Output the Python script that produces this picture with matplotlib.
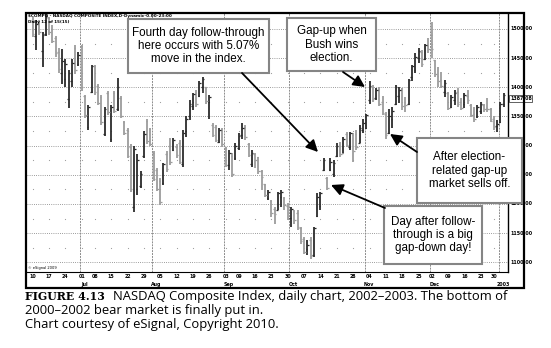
import numpy as np
import pandas as pd
import matplotlib
matplotlib.use("Agg")
import matplotlib.pyplot as plt
from matplotlib.patches import Rectangle, FancyArrowPatch
from matplotlib.transforms import blended_transform_factory

W, H = 551, 348

# NASDAQ Composite, daily bars Jun 10 2002 - Jan 3 2003
holidays = ["2002-07-04", "2002-09-02", "2002-11-28", "2002-12-25", "2003-01-01"]
days = pd.bdate_range("2002-06-10", "2003-01-03")
days = days[~days.isin(pd.to_datetime(holidays))]

opens = [
    1515, 1488, 1512, 1462, 1492, 1518, 1500, 1485, 1460, 1425, 1415, 1380, 1410, 1468, 1440,
    1470, 1385, 1332, 1392, 1436, 1402, 1384, 1320, 1390, 1312, 1390, 1362, 1382, 1340, 1326,
    1298, 1195, 1225, 1230, 1282, 1342, 1328,
    1288, 1258, 1240, 1236, 1285, 1300, 1292, 1298, 1305, 1268, 1325, 1350, 1368, 1390, 1385,
    1400, 1400, 1375, 1336, 1332, 1306, 1326,
    1296, 1266, 1282, 1278, 1296, 1318, 1332, 1302, 1268, 1285, 1280, 1256, 1235, 1210, 1205,
    1192, 1190, 1212, 1210, 1196,
    1176, 1188, 1185, 1158, 1140, 1122, 1138, 1112, 1180, 1196, 1258, 1245, 1258, 1252, 1282,
    1300, 1288, 1320, 1298, 1318, 1320, 1305, 1326,
    1330, 1378, 1400, 1382, 1396, 1375, 1355, 1322, 1345, 1372, 1385, 1398, 1375, 1372, 1418,
    1430, 1450, 1460, 1448, 1470,
    1490, 1447, 1420, 1412, 1392, 1390, 1366, 1378, 1392, 1375, 1372, 1385, 1370, 1355, 1350,
    1360, 1370, 1365, 1362, 1345, 1334,
    1340, 1372,
]
highs = [
    1521, 1515, 1515, 1495, 1527, 1521, 1507, 1488, 1468, 1465, 1448, 1430, 1448, 1473, 1460,
    1473, 1387, 1370, 1439, 1439, 1405, 1387, 1367, 1393, 1370, 1393, 1416, 1385, 1342, 1330,
    1302, 1299, 1285, 1256, 1325, 1345, 1330,
    1290, 1262, 1245, 1271, 1290, 1313, 1313, 1302, 1310, 1327, 1350, 1378, 1390, 1395, 1410,
    1418, 1401, 1387, 1338, 1335, 1330, 1330,
    1298, 1292, 1287, 1304, 1321, 1338, 1336, 1304, 1292, 1287, 1281, 1258, 1235, 1224, 1206,
    1195, 1221, 1224, 1212, 1201,
    1195, 1189, 1189, 1161, 1144, 1138, 1144, 1161, 1218, 1221, 1278, 1247, 1278, 1276, 1304,
    1307, 1315, 1324, 1324, 1321, 1327, 1335, 1345,
    1355, 1410, 1404, 1398, 1401, 1385, 1358, 1362, 1367, 1404, 1401, 1399, 1384, 1415, 1438,
    1458, 1467, 1464, 1475, 1484,
    1512, 1447, 1435, 1427, 1413, 1392, 1387, 1395, 1398, 1381, 1390, 1395, 1372, 1367, 1370,
    1375, 1372, 1381, 1364, 1350, 1344,
    1375, 1390,
]
lows = [
    1487, 1464, 1490, 1435, 1488, 1490, 1476, 1452, 1425, 1405, 1400, 1365, 1400, 1422, 1436,
    1393, 1347, 1327, 1390, 1387, 1370, 1336, 1316, 1353, 1307, 1356, 1359, 1347, 1319, 1279,
    1221, 1187, 1216, 1227, 1279, 1302, 1299,
    1239, 1222, 1199, 1233, 1255, 1267, 1290, 1279, 1268, 1264, 1315, 1344, 1361, 1367, 1384,
    1390, 1372, 1345, 1315, 1307, 1304, 1298,
    1264, 1258, 1247, 1275, 1292, 1312, 1310, 1281, 1264, 1262, 1252, 1224, 1212, 1207, 1178,
    1166, 1189, 1195, 1189, 1172,
    1161, 1166, 1155, 1132, 1115, 1112, 1106, 1109, 1178, 1189, 1256, 1224, 1256, 1247, 1281,
    1281, 1287, 1298, 1292, 1272, 1292, 1304, 1321,
    1328, 1372, 1374, 1378, 1368, 1352, 1312, 1320, 1330, 1370, 1373, 1361, 1358, 1370, 1410,
    1424, 1441, 1435, 1447, 1458,
    1450, 1418, 1401, 1398, 1384, 1361, 1364, 1370, 1367, 1361, 1364, 1372, 1349, 1341, 1348,
    1355, 1358, 1358, 1340, 1327, 1324,
    1338, 1367,
]
closes = [
    1492, 1508, 1495, 1490, 1522, 1494, 1480, 1458, 1432, 1445, 1440, 1424, 1442, 1430, 1455,
    1400, 1352, 1366, 1436, 1392, 1373, 1340, 1362, 1358, 1366, 1360, 1400, 1350, 1322, 1283,
    1226, 1295, 1275, 1252, 1320, 1308, 1303,
    1243, 1226, 1203, 1268, 1260, 1272, 1310, 1284, 1272, 1322, 1345, 1372, 1388, 1372, 1408,
    1415, 1376, 1383, 1318, 1310, 1327, 1302,
    1266, 1288, 1252, 1300, 1316, 1330, 1314, 1284, 1288, 1276, 1256, 1246, 1215, 1221, 1185,
    1182, 1219, 1220, 1198, 1174,
    1192, 1172, 1160, 1136, 1118, 1130, 1110, 1158, 1212, 1218, 1276, 1228, 1272, 1270, 1300,
    1286, 1312, 1301, 1321, 1290, 1298, 1330, 1338,
    1352, 1402, 1380, 1395, 1372, 1356, 1318, 1350, 1360, 1400, 1396, 1368, 1370, 1412, 1436,
    1452, 1462, 1440, 1472, 1465,
    1466, 1422, 1410, 1402, 1408, 1364, 1384, 1390, 1372, 1364, 1386, 1378, 1352, 1345, 1366,
    1372, 1362, 1362, 1343, 1332, 1337,
    1372, 1387.08,
]

price_levels = [1100, 1150, 1200, 1250, 1300, 1350, 1400, 1450, 1500]
last_price = closes[-1]
month_names = ["Jul", "Aug", "Sep", "Oct", "Nov", "Dec", "2003"]

caption_head = "FIGURE 4.13"
caption_lines = [
    "NASDAQ Composite Index, daily chart, 2002\u20132003. The bottom of",
    "2000\u20132002 bear market is finally put in.",
    "Chart courtesy of eSignal, Copyright 2010.",
]

notes = {
    "follow": "Fourth day follow-through\nhere occurs with 5.07%\nmove in the index.",
    "gapup": "Gap-up when\nBush wins\nelection.",
    "selloff": "After election-\nrelated gap-up\nmarket sells off.",
    "gapdown": "Day after follow-\nthrough is a big\ngap-down day!",
}

o = np.array(opens, float)
hi = np.array(highs, float)
lo = np.array(lows, float)
c = np.array(closes, float)
n = len(days)
assert len(o) == len(hi) == len(lo) == len(c) == n
idx = np.arange(n)


def fx(px):
    return px / W


def fy(py):
    return 1 - py / H


fig = plt.figure(figsize=(W / 100, H / 100), dpi=100)
fig.patch.set_facecolor("white")

ax = fig.add_axes([fx(27), fy(272), fx(508) - fx(27), fy(13) - fy(272)])
ax.set_xlim(-1.74, 145.35)
ax.set_ylim(1083.4, 1527.4)
ax.set_xticks([])
ax.set_yticks([])
for side in ("left", "top"):
    ax.spines[side].set_visible(False)
ax.spines["right"].set_linewidth(1.0)
ax.spines["bottom"].set_linewidth(0.8)

# grid: dotted price lines, sparse dots between, month separators
for lvl in price_levels:
    ax.axhline(lvl, color="#7d7d7d", lw=0.6, ls=(0, (1, 1.6)), zorder=0)

week_start = np.r_[0, np.where(np.diff(days.isocalendar().week.values) != 0)[0] + 1]
month_start = np.where(np.diff(days.month.values) != 0)[0] + 1

half_levels = [p + 25 for p in price_levels[:-1]]
wx, wy = np.meshgrid(week_start, half_levels)
ax.scatter(wx.ravel(), wy.ravel(), s=0.7, color="#9a9a9a", lw=0, zorder=0)

for m in month_start:
    ax.axvline(m - 0.5, color="#8c8c8c", lw=0.7, ls=(0, (2, 1)), zorder=0)

# OHLC bars, dark when the day closes above its open
up = c >= o
colors = np.where(up, "#2b2b2b", "#9c9c9c")
ax.vlines(idx, lo, hi, colors=colors, lw=1.3, zorder=2)
ax.hlines(o, idx - 0.5, idx, colors=colors, lw=0.9, zorder=2)
ax.hlines(c, idx, idx + 0.5, colors=colors, lw=0.9, zorder=2)

# right price scale
ylab = blended_transform_factory(fig.transFigure, ax.transData)
narrow = ["Liberation Sans Narrow", "DejaVu Sans"]
for lvl in price_levels:
    ax.text(fx(510), lvl, f"{lvl:.2f}", transform=ylab, fontsize=3.4, weight="bold",
            family=narrow, va="center", ha="left", clip_on=False)
ax.text(fx(510), last_price - 6, f"{last_price:.2f}", transform=ylab, fontsize=3.4,
        weight="bold", family=narrow, va="center", ha="left", clip_on=False,
        bbox=dict(boxstyle="square,pad=0.15", fc="white", ec="#222222", lw=0.5))

# date scale
xlab = blended_transform_factory(ax.transData, fig.transFigure)
for w in week_start:
    ax.text(w, fy(277), f"{days[w].day:02d}", transform=xlab, fontsize=3.4, weight="bold",
            family=narrow, ha="center", va="center", clip_on=False)
for m, name in zip(month_start, month_names):
    ax.text(m + 0.8, fy(284.5), name, transform=xlab, fontsize=3.4, weight="bold",
            family=narrow, ha="center", va="center", clip_on=False)

fig.text(fx(28.5), fy(16.5), r"\$COMPQ - NASDAQ COMPOSITE INDEX,D-Dynamic-0.00-23:00",
         fontsize=3.0, weight="bold", family=narrow, va="center")
fig.text(fx(28.5), fy(22), "Daily 12 of 15(15)", fontsize=3.0, weight="bold",
         family=narrow, va="center")
fig.text(fx(28.5), fy(268), "\u00a9 eSignal 2009", fontsize=2.6, family=narrow, va="center")

# chart frame
fig.add_artist(Rectangle((fx(26), fy(288)), fx(524) - fx(26), fy(12.5) - fy(288),
                         transform=fig.transFigure, fill=False, ec="black", lw=1.6, zorder=5))


def note_box(key, x0, y0, x1, y1):
    fig.add_artist(Rectangle((fx(x0), fy(y1)), fx(x1) - fx(x0), fy(y0) - fy(y1),
                             transform=fig.transFigure, fc="white", ec="#858585",
                             lw=1.5, zorder=6))
    fig.text(fx((x0 + x1) / 2), fy((y0 + y1) / 2), notes[key], ha="center", va="center",
             fontsize=8.4, family="Liberation Sans", linespacing=1.12, zorder=7)


def arrow(x0, y0, x1, y1):
    fig.add_artist(FancyArrowPatch(
        (fx(x0), fy(y0)), (fx(x1), fy(y1)), transform=fig.transFigure,
        arrowstyle="-|>,head_length=0.7,head_width=0.35", mutation_scale=10,
        color="black", lw=1.3, zorder=8, shrinkA=0, shrinkB=0))


note_box("follow", 128, 19, 269, 73)
note_box("gapup", 287, 18, 376, 71)
note_box("selloff", 417, 138, 522, 203)
note_box("gapdown", 384, 206, 482, 264)
arrow(242, 73, 318, 152)
arrow(343, 72, 365, 87)
arrow(417, 152, 390, 134)
arrow(385, 208, 331, 185)

# caption
fig.text(fx(25), fy(296.5), caption_head, fontsize=7.9, weight="bold", family="DejaVu Serif",
         va="center")
fig.text(fx(113), fy(296.5), caption_lines[0], fontsize=9.4, family="Open Sans", va="center")
fig.text(fx(25), fy(310.5), caption_lines[1], fontsize=9.4, family="Open Sans", va="center")
fig.text(fx(25), fy(324.5), caption_lines[2], fontsize=9.4, family="Open Sans", va="center")

fig.savefig("out.png", dpi=100)
